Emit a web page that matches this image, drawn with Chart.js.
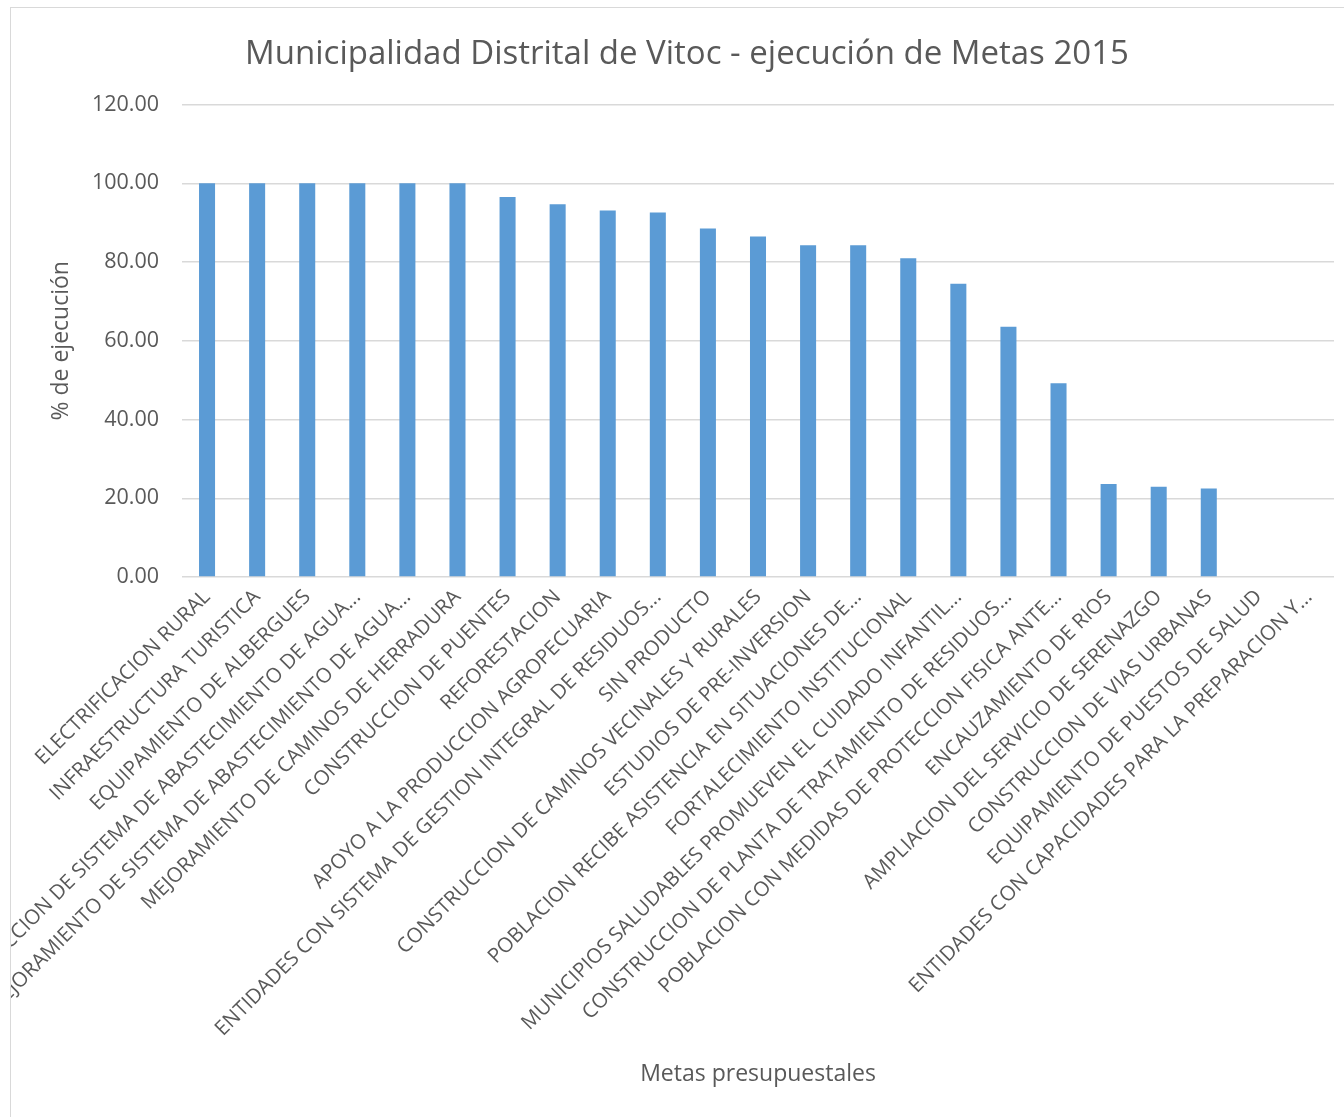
<!DOCTYPE html>
<html>
<head>
<meta charset="utf-8">
<script src="https://cdn.jsdelivr.net/npm/chart.js@4"></script>
<style>
    html, body { margin: 0; padding: 0; background: #fff; overflow: hidden; }
    #frame {
        position: absolute;
        left: 10px;
        top: 7px;
        border-left: 1px solid #d9d9d9;
        border-top: 1px solid #d9d9d9;
    }
    canvas { display: block; }
</style>
</head>
<body>
<div id="frame">
    <canvas id="metasChart" width="1353" height="1112"></canvas>
</div>
<script>
const categorias = [
    "ELECTRIFICACION RURAL",
    "INFRAESTRUCTURA TURISTICA",
    "EQUIPAMIENTO DE ALBERGUES",
    "CONSTRUCCION DE SISTEMA DE ABASTECIMIENTO DE AGUA...",
    "MEJORAMIENTO DE SISTEMA DE ABASTECIMIENTO DE AGUA...",
    "MEJORAMIENTO DE CAMINOS DE HERRADURA",
    "CONSTRUCCION DE PUENTES",
    "REFORESTACION",
    "APOYO A LA PRODUCCION AGROPECUARIA",
    "ENTIDADES CON SISTEMA DE GESTION INTEGRAL DE RESIDUOS...",
    "SIN PRODUCTO",
    "CONSTRUCCION DE CAMINOS VECINALES Y RURALES",
    "ESTUDIOS DE PRE-INVERSION",
    "POBLACION RECIBE ASISTENCIA EN SITUACIONES DE...",
    "FORTALECIMIENTO INSTITUCIONAL",
    "MUNICIPIOS SALUDABLES PROMUEVEN EL CUIDADO INFANTIL...",
    "CONSTRUCCION DE PLANTA DE TRATAMIENTO DE RESIDUOS...",
    "POBLACION CON MEDIDAS DE PROTECCION FISICA ANTE...",
    "ENCAUZAMIENTO DE RIOS",
    "AMPLIACION DEL SERVICIO DE SERENAZGO",
    "CONSTRUCCION DE VIAS URBANAS",
    "EQUIPAMIENTO DE PUESTOS DE SALUD",
    "ENTIDADES CON CAPACIDADES PARA LA PREPARACION Y..."
];

const ejecucion = [
    100, 100, 100, 100, 100, 100, 96.5, 94.7, 93.1, 92.6, 88.5, 86.5,
    84.3, 84.3, 81.0, 74.5, 63.6, 49.2, 23.6, 22.9, 22.5, 0, 0
];

const yTicks = [0, 20, 40, 60, 80, 100, 120];

const gris = "#595959";
const fuente = "'Open Sans', 'Noto Sans', sans-serif";

const ctx = document.getElementById("metasChart").getContext("2d");
new Chart(ctx, {
    type: "bar",
    data: {
        labels: categorias,
        datasets: [{
            label: "% de ejecución",
            data: ejecucion,
            backgroundColor: "#5b9bd5",
            borderWidth: 0,
            categoryPercentage: 1,
            barPercentage: 0.32
        }]
    },
    options: {
        responsive: false,
        animation: false,
        layout: {
            padding: { left: 29, right: 30, top: 0, bottom: 0 }
        },
        plugins: {
            legend: { display: false },
            tooltip: { enabled: false },
            title: {
                display: true,
                text: "Municipalidad Distrital de Vitoc - ejecución de Metas 2015",
                color: gris,
                font: { family: fuente, size: 33, weight: "normal" },
                padding: { top: 27, bottom: 30 }
            }
        },
        scales: {
            x: {
                afterFit: scale => { scale.height = 543; },
                grid: { display: false, drawTicks: false },
                border: { display: false },
                ticks: {
                    color: gris,
                    font: { family: fuente, size: 20.5 },
                    minRotation: 45,
                    maxRotation: 45,
                    autoSkip: false,
                    padding: 8
                },
                title: {
                    display: true,
                    text: "Metas presupuestales",
                    color: gris,
                    font: { family: fuente, size: 23 },
                    padding: { top: 0, bottom: 32 }
                }
            },
            y: {
                min: 0,
                max: 120,
                afterFit: scale => { scale.width = 142; },
                afterBuildTicks: scale => {
                    scale.ticks = yTicks.map(v => ({ value: v }));
                },
                grid: {
                    color: "#d9d9d9",
                    lineWidth: 1.5,
                    drawTicks: false
                },
                border: { display: false },
                ticks: {
                    color: gris,
                    font: { family: fuente, size: 21.5 },
                    padding: 23,
                    callback: value => Number(value).toFixed(2)
                },
                title: {
                    display: true,
                    text: "% de ejecución",
                    color: gris,
                    font: { family: fuente, size: 23 },
                    padding: { top: 8, bottom: 0 }
                }
            }
        }
    }
});
</script>
</body>
</html>
